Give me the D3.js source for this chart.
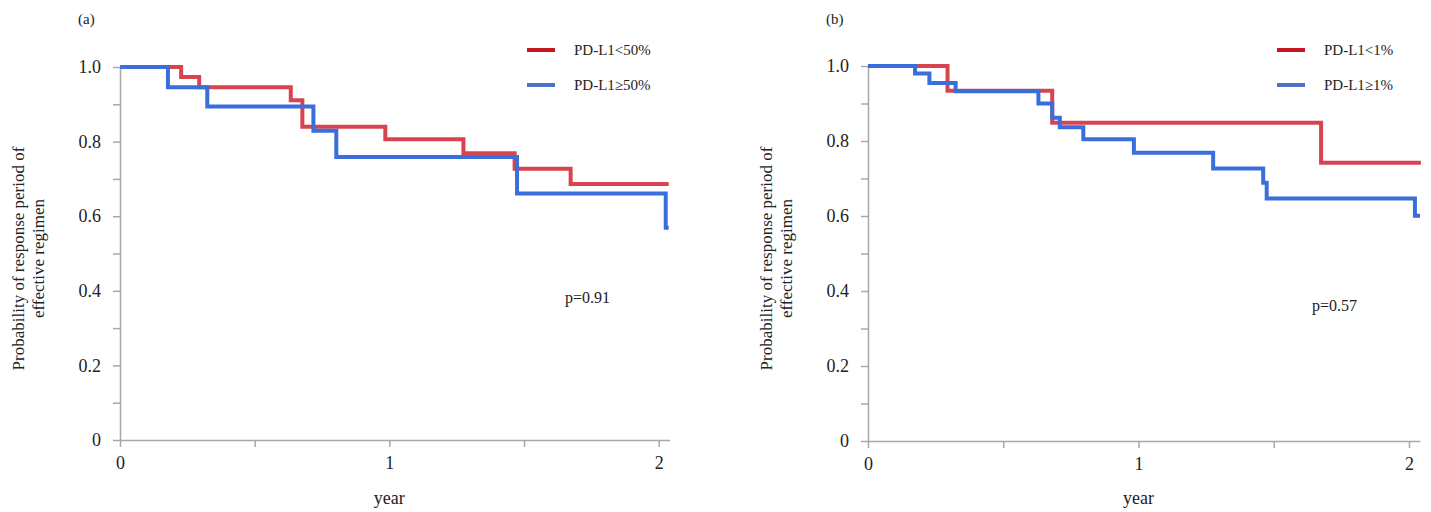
<!DOCTYPE html>
<html>
<head>
<meta charset="utf-8">
<script src="https://cdn.jsdelivr.net/npm/d3@7"></script>
<style>
  body { margin: 0; background: #fff; }
  svg text { font-family: "Liberation Serif", "Times New Roman", Times, "DejaVu Serif", serif !important; fill: #222; }
</style>
</head>
<body>
<svg id="chart" width="1431" height="512"></svg>
<script>
(function(){

  // panel (a): PD-L1 50% cut-off
  const aLowTime  = [0, 0.227, 0.294, 0.634, 0.677, 0.985, 1.275, 1.465, 1.673, 2.037]
  const aLowSurv  = [1, 0.973, 0.946, 0.911, 0.840, 0.806, 0.769, 0.727, 0.686, 0.686]
  const aHighTime = [0, 0.178, 0.324, 0.718, 0.803, 1.474, 2.026, 2.037]
  const aHighSurv = [1, 0.946, 0.894, 0.829, 0.759, 0.661, 0.569, 0.569]

  // panel (b): PD-L1 1% cut-off
  const bLowTime  = [0, 0.294, 0.681, 1.675, 2.044]
  const bLowSurv  = [1, 0.934, 0.849, 0.742, 0.742]
  const bHighTime = [0, 0.174, 0.227, 0.324, 0.630, 0.681, 0.709, 0.796, 0.983, 1.276, 1.461, 1.474, 2.022, 2.041]
  const bHighSurv = [1, 0.980, 0.955, 0.933, 0.900, 0.862, 0.837, 0.805, 0.769, 0.727, 0.689, 0.647, 0.601, 0.601]

  const yTicks = [0, 0.1, 0.2, 0.3, 0.4, 0.5, 0.6, 0.7, 0.8, 0.9, 1.0]
  const yLabels = {0: '0', 0.2: '0.2', 0.4: '0.4', 0.6: '0.6', 0.8: '0.8', 1: '1.0'}
  const xTicks = [0, 0.5, 1, 1.5, 2]
  const xLabels = {0: '0', 1: '1', 2: '2'}

  const panels = [
    { tag: '(a)', left: 120, right: 669.5, top: 67, bottom: 440,
      legend: ['PD-L1<50%', 'PD-L1\u226550%'], p: 'p=0.91',
      low: [aLowTime, aLowSurv], high: [aHighTime, aHighSurv],
      legX: 527, pX: 565, pY: 303 },
    { tag: '(b)', left: 868, right: 1419.8, top: 66, bottom: 441,
      legend: ['PD-L1<1%', 'PD-L1\u22651%'], p: 'p=0.57',
      low: [bLowTime, bLowSurv], high: [bHighTime, bHighSurv],
      legX: 1277, pX: 1312, pY: 311 }
  ]

  const svg = d3.select('#chart')
  const axisColor = '#a8a8a8'

  panels.forEach(function(pn) {
    let x = d3.scaleLinear().domain([0, 2.04]).range([pn.left, pn.right])
    let y = d3.scaleLinear().domain([0, 1]).range([pn.bottom, pn.top])
    let g = svg.append('g')

    let yAxis = g.append('g').attr('transform', `translate(${pn.left},0)`)
      .call(d3.axisLeft(y).tickValues(yTicks).tickSize(7).tickSizeOuter(0).tickPadding(12)
        .tickFormat(function(d) { return yLabels[Math.round(d*10)/10] || '' }))
    let xAxis = g.append('g').attr('transform', `translate(0,${pn.bottom})`)
      .call(d3.axisBottom(x).tickValues(xTicks).tickSize(7).tickSizeOuter(0).tickPadding(9)
        .tickFormat(function(d) { return xLabels[d] || '' }))

    ;[yAxis, xAxis].forEach(function(a) {
      a.attr('font-family', null)
      a.select('.domain').attr('stroke', axisColor).attr('stroke-width', 1.5)
      a.selectAll('.tick line').attr('stroke', axisColor).attr('stroke-width', 1.5)
      a.selectAll('.tick text').attr('font-size', '18px').attr('fill', '#222')
    })

    // survival curves
    let line = d3.line().curve(d3.curveStepAfter)
      .x(function(d) { return x(d[0]) }).y(function(d) { return y(d[1]) })
    let series = [
      { data: pn.low, color: '#d8434f' },
      { data: pn.high, color: '#3a6fdb' }
    ]
    series.forEach(function(s) {
      let pts = s.data[0].map(function(t, i) { return [t, s.data[1][i]] })
      g.append('path').datum(pts).attr('d', line)
        .attr('fill', 'none').attr('stroke', s.color).attr('stroke-width', 4)
    })

    // legend
    let legColors = ['#c3161f', '#4a73c8']
    pn.legend.forEach(function(txt, i) {
      let ly = 50 + i*35
      g.append('line').attr('x1', pn.legX).attr('x2', pn.legX + 28)
        .attr('y1', ly).attr('y2', ly)
        .attr('stroke', legColors[i]).attr('stroke-width', 4)
      g.append('text').attr('x', pn.legX + 47).attr('y', ly + 5)
        .attr('font-size', '15px').text(txt)
    })

    g.append('text').attr('x', pn.pX).attr('y', pn.pY)
      .attr('font-size', '16px').text(pn.p)

    g.append('text').attr('x', pn.left - 42).attr('y', 24)
      .attr('font-size', '15px').text(pn.tag)

    g.append('text').attr('x', x(1)).attr('y', 504)
      .attr('text-anchor', 'middle').attr('font-size', '18px').text('year')

    let midY = (pn.top + pn.bottom) / 2 + 5
    let titleLines = ['Probability of response period of', 'effective regimen']
    titleLines.forEach(function(t, i) {
      g.append('text')
        .attr('transform', `translate(${pn.left - 96 + i*20},${midY}) rotate(-90)`)
        .attr('text-anchor', 'middle').attr('font-size', '17px').text(t)
    })
  })

})()
</script>
</body>
</html>
